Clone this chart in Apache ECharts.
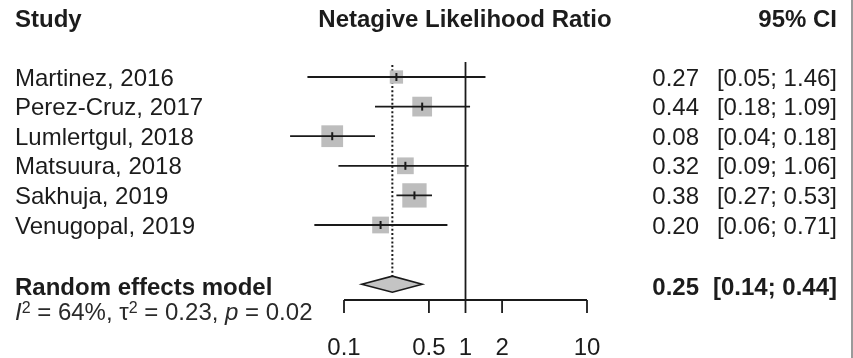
<!DOCTYPE html>
<html>
<head>
<meta charset="utf-8">
<style>
html,body{margin:0;padding:0;background:#fff;}
#chart{width:853px;height:358px;}
</style>
<script src="https://cdn.jsdelivr.net/npm/echarts@6/dist/echarts.min.js"></script>
</head>
<body>
<div id="chart"></div>
<script>
// ---- data ----
const studies = ['Martinez, 2016', 'Perez-Cruz, 2017', 'Lumlertgul, 2018', 'Matsuura, 2018', 'Sakhuja, 2019', 'Venugopal, 2019'];
const estimates = [0.27, 0.44, 0.08, 0.32, 0.38, 0.20];
const lowerCI = [0.05, 0.18, 0.036, 0.09, 0.27, 0.057];
const upperCI = [1.46, 1.09, 0.18, 1.06, 0.53, 0.71];
const weights = [8.1, 17.8, 21.6, 12.8, 27.0, 12.8];
const pooledLabel = 'Random effects model';
const pooledEst = [0.25];
const pooledLower = [0.14];
const pooledUpper = [0.44];
const i2 = '64%';
const tau2 = '0.23';
const pValue = '0.02';
const tickValues = [0.1, 0.5, 1, 2, 10];
const nullValue = [1];
const headerStudy = 'Study';
const headerEffect = 'Netagive Likelihood Ratio';
const headerCI = '95% CI';

// ---- styles ----
const FONT = 'Liberation Sans, Arial, sans-serif';
const TXT = '#1c1c1c';
const LINE = '#1a1a1a';
const BOX = '#bdbdbd';
const FS = 24;
const COL_NAME = 15, COL_EST = 699, COL_CI = 837;
const TEXT_DY = 2;

const fmt = v => v.toFixed(2);

const studyData = studies.map((s, i) => [estimates[i], lowerCI[i], upperCI[i], i, weights[i]]);
const pooledRow = studies.length + 1;
const pooledData = pooledEst.map((e, i) => [e, pooledLower[i], pooledUpper[i], pooledRow]);
const tickData = tickValues.map(v => [v]);

const chart = echarts.init(document.getElementById('chart'), null, {renderer: 'canvas'});

function txt(x, y, text, align, bold, size) {
  return {
    type: 'text',
    style: {
      x: x, y: y, text: text, fill: TXT,
      fontFamily: FONT, fontSize: size || FS, fontWeight: bold ? 'bold' : 'normal',
      align: align, verticalAlign: 'middle'
    }
  };
}

chart.setOption({
  animation: false,
  backgroundColor: '#ffffff',
  grid: {left: 344, right: 266, top: 62, bottom: 58},
  xAxis: {type: 'log', logBase: 10, min: 0.1, max: 10, show: false},
  yAxis: {type: 'value', inverse: true, min: -0.507, max: 7.534, show: false},
  graphic: [
    txt(COL_NAME, 20, headerStudy, 'left', true),
    txt(465, 20, headerEffect, 'center', true),
    txt(COL_CI, 20, headerCI, 'right', true),
    {type: 'rect', shape: {x: 851, y: 0, width: 2, height: 358}, style: {fill: '#9a9a9a'}, z: 10}
  ],
  series: [
    // null line
    {
      type: 'custom', data: nullValue.map(v => [v]), clip: false, z: 3,
      encode: {x: 0},
      renderItem: function (params, api) {
        const cs = params.coordSys;
        const x = api.coord([api.value(0), 0])[0];
        return {type: 'line', shape: {x1: x, y1: cs.y, x2: x, y2: cs.y + cs.height},
          style: {stroke: LINE, lineWidth: 1.8}};
      }
    },
    // pooled dotted line + diamond + texts
    {
      type: 'custom', data: pooledData, clip: false, z: 2,
      encode: {x: [0, 1, 2], y: 3},
      renderItem: function (params, api) {
        const cs = params.coordSys;
        const row = api.value(3);
        const c = api.coord([api.value(0), row]);
        const l = api.coord([api.value(1), row]);
        const h = api.coord([api.value(2), row]);
        const hh = 8;
        return {type: 'group', children: [
          {type: 'line', shape: {x1: c[0], y1: cs.y + 3, x2: c[0], y2: c[1] - hh},
            style: {stroke: LINE, lineWidth: 2, lineDash: [2, 2.2]}},
          {type: 'polygon', shape: {points: [[l[0], c[1]], [c[0], c[1] - hh], [h[0], c[1]], [c[0], c[1] + hh]]},
            style: {fill: '#c4c4c4', stroke: LINE, lineWidth: 1.6}},
          txt(COL_NAME, c[1] + TEXT_DY + 2, pooledLabel, 'left', true),
          txt(COL_EST, c[1] + TEXT_DY + 2, fmt(api.value(0)), 'right', true),
          txt(COL_CI, c[1] + TEXT_DY + 2, '[' + fmt(api.value(1)) + '; ' + fmt(api.value(2)) + ']', 'right', true),
          {type: 'text', style: {
            x: COL_NAME, y: c[1] + 29, verticalAlign: 'middle', align: 'left',
            text: '{it|I}{sup|2}{n| = ' + i2 + ', τ}{sup|2}{n| = ' + tau2 + ', }{it|p}{n| = ' + pValue + '}',
            fontFamily: FONT, fontSize: 24, fill: '#2a2a2a',
            rich: {
              n: {fontFamily: FONT, fontSize: 24, fill: '#2a2a2a', lineHeight: 26},
              it: {fontFamily: FONT, fontSize: 24, fontStyle: 'italic', fill: '#2a2a2a', lineHeight: 26},
              sup: {fontFamily: FONT, fontSize: 16, fill: '#2a2a2a', lineHeight: 16, verticalAlign: 'top'}
            }
          }}
        ]};
      }
    },
    // studies
    {
      type: 'custom', data: studyData, clip: false, z: 4,
      encode: {x: [0, 1, 2], y: 3},
      renderItem: function (params, api) {
        const row = api.value(3);
        const c = api.coord([api.value(0), row]);
        const l = api.coord([api.value(1), row]);
        const h = api.coord([api.value(2), row]);
        const side = 4.68 * Math.sqrt(api.value(4));
        const i = params.dataIndex;
        return {type: 'group', children: [
          {type: 'rect', shape: {x: c[0] - side / 2, y: c[1] - side / 2, width: side, height: side},
            style: {fill: BOX}},
          {type: 'line', shape: {x1: l[0], y1: c[1], x2: h[0], y2: c[1]},
            style: {stroke: LINE, lineWidth: 1.8}},
          {type: 'line', shape: {x1: c[0], y1: c[1] - 4, x2: c[0], y2: c[1] + 4},
            style: {stroke: LINE, lineWidth: 2}},
          txt(COL_NAME, c[1] + TEXT_DY, studies[i], 'left', false),
          txt(COL_EST, c[1] + TEXT_DY, fmt(api.value(0)), 'right', false),
          txt(COL_CI, c[1] + TEXT_DY, '[' + fmt(api.value(1)) + '; ' + fmt(api.value(2)) + ']', 'right', false)
        ]};
      }
    },
    // x axis line
    {
      type: 'custom', data: [[tickValues[0], tickValues[tickValues.length - 1]]], clip: false, z: 3,
      encode: {x: [0, 1]},
      renderItem: function (params, api) {
        const cs = params.coordSys;
        const y = cs.y + cs.height;
        const a = api.coord([api.value(0), 0])[0];
        const b = api.coord([api.value(1), 0])[0];
        return {type: 'line', shape: {x1: a, y1: y, x2: b, y2: y}, style: {stroke: LINE, lineWidth: 1.8}};
      }
    },
    // ticks + labels
    {
      type: 'custom', data: tickData, clip: false, z: 3,
      encode: {x: 0},
      renderItem: function (params, api) {
        const cs = params.coordSys;
        const y = cs.y + cs.height;
        const v = api.value(0);
        const x = api.coord([v, 0])[0];
        return {type: 'group', children: [
          {type: 'line', shape: {x1: x, y1: y, x2: x, y2: y + 13}, style: {stroke: LINE, lineWidth: 1.8}},
          txt(x, y + 48, String(v), 'center', false)
        ]};
      }
    }
  ]
});
</script>
</body>
</html>
